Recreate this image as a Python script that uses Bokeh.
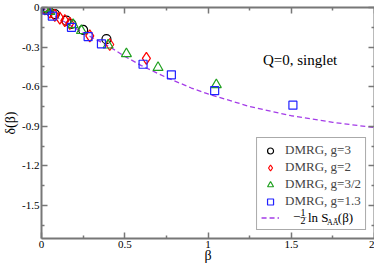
from bokeh.plotting import figure
from bokeh.models import (Range1d, LinearAxis, Legend, LegendItem, Label,
                          FixedTicker)
from bokeh.embed import file_html
from bokeh.resources import INLINE

# ---- data ----
beta_g3 = [0.02, 0.04, 0.08, 0.15, 0.18, 0.25, 0.39]
delta_g3 = [-0.01, -0.02, -0.05, -0.10, -0.125, -0.17, -0.24]

beta_g2 = [0.02, 0.05, 0.08, 0.11, 0.14, 0.17, 0.29, 0.41, 0.63]
delta_g2 = [-0.01, -0.035, -0.06, -0.08, -0.10, -0.12, -0.215, -0.28, -0.385]

beta_g15 = [0.02, 0.05, 0.19, 0.24, 0.40, 0.51, 0.70, 1.05]
delta_g15 = [-0.01, -0.03, -0.13, -0.175, -0.285, -0.35, -0.455, -0.585]

beta_g13 = [0.03, 0.065, 0.18, 0.28, 0.36, 0.61, 0.78, 1.04, 1.51]
delta_g13 = [-0.02, -0.065, -0.15, -0.22, -0.275, -0.43, -0.51, -0.63, -0.74]

beta_curve = [0, 0.1, 0.2, 0.3, 0.4, 0.5, 0.6, 0.75, 0.9, 1.0, 1.25, 1.5, 1.75, 2.0]
delta_curve = [0, -0.08, -0.155, -0.225, -0.29, -0.37, -0.44, -0.53, -0.61,
               -0.655, -0.75, -0.82, -0.87, -0.91]

x_ticks = [0, 0.5, 1, 1.5, 2]
x_tick_labels = ["0", "0.5", "1", "1.5", "2"]
x_minor = [0.25, 0.75, 1.25, 1.75]
y_ticks = [0, -0.3, -0.6, -0.9, -1.2, -1.5]
y_tick_labels = ["0", "-0.3", "-0.6", "-0.9", "-1.2", "-1.5"]
y_minor = [-0.15, -0.45, -0.75, -1.05, -1.35, -1.65]

FONT = "Liberation Serif"
AXC = "#777777"

p = figure(width=374, height=265, output_backend="svg", toolbar_location=None,
           x_range=Range1d(0, 2), y_range=Range1d(-1.75, 0),
           min_border_left=34, min_border_right=0, min_border_top=7,
           min_border_bottom=20)
p.outline_line_color = None
p.grid.visible = False
p.background_fill_color = "white"


def style_axis(ax):
    ax.axis_line_color = AXC
    ax.axis_line_width = 2
    ax.major_tick_in = 6
    ax.major_tick_out = 0
    ax.minor_tick_in = 3
    ax.minor_tick_out = 0
    ax.major_tick_line_color = AXC
    ax.minor_tick_line_color = AXC
    ax.major_tick_line_width = 1.5
    ax.minor_tick_line_width = 1.5


for ax in (p.xaxis[0], p.yaxis[0]):
    style_axis(ax)
    ax.major_label_text_font = FONT
    ax.major_label_text_font_size = "11px"
    ax.major_label_text_color = "black"
    ax.axis_label_text_font = FONT
    ax.axis_label_text_font_style = "normal"
    ax.axis_label_text_font_size = "14px"
    ax.axis_label_text_color = "black"
    ax.major_label_standoff = 2

p.xaxis[0].axis_label_standoff = -3
p.yaxis[0].axis_label_standoff = 1

p.xaxis[0].ticker = FixedTicker(ticks=x_ticks, minor_ticks=x_minor)
p.xaxis[0].major_label_overrides = {t: l for t, l in zip(x_ticks, x_tick_labels)}
p.yaxis[0].ticker = FixedTicker(ticks=y_ticks, minor_ticks=y_minor)
p.yaxis[0].major_label_overrides = {t: l for t, l in zip(y_ticks, y_tick_labels)}
p.xaxis[0].axis_label = "β"
p.yaxis[0].axis_label = "δ(β)"

for loc, minors, ticks in (("above", x_minor, x_ticks), ("right", y_minor, y_ticks)):
    a = LinearAxis(ticker=FixedTicker(ticks=ticks, minor_ticks=minors))
    style_axis(a)
    a.major_label_overrides = {t: "" for t in ticks}
    a.major_label_text_font_size = "1px"
    a.major_label_standoff = 0
    p.add_layout(a, loc)

# curve
r_curve = p.line(beta_curve, delta_curve, line_color="#a43ce8", line_width=1.3,
                 line_dash="5 3")

r3 = p.scatter(beta_g3, delta_g3, marker="circle", size=9, fill_color=None,
               line_color="black", line_width=1.2)
r2 = p.scatter(beta_g2, delta_g2, marker="diamond", size=12, fill_color=None,
               line_color="red", line_width=1.2)
r15 = p.scatter(beta_g15, delta_g15, marker="triangle", size=10, fill_color=None,
                line_color="#20a020", line_width=1.2)
r13 = p.scatter(beta_g13, delta_g13, marker="square", size=8, fill_color=None,
                line_color="#2020ff", line_width=1.2)

legend = Legend(items=[
    LegendItem(label="DMRG, g=3", renderers=[r3]),
    LegendItem(label="DMRG, g=2", renderers=[r2]),
    LegendItem(label="DMRG, g=3/2", renderers=[r15]),
    LegendItem(label="DMRG, g=1.3", renderers=[r13]),
    LegendItem(label="                 ", renderers=[r_curve]),
], location="bottom_right")
legend.label_text_font = FONT
legend.label_text_font_size = "13px"
legend.label_height = 15
legend.glyph_height = 15
legend.glyph_width = 18
legend.spacing = 1
legend.padding = 4
legend.margin = 8
legend.label_standoff = 6
legend.border_line_color = "#555555"
legend.border_line_width = 1
legend.background_fill_alpha = 0
p.add_layout(legend, "center")

p.add_layout(Label(x=1.33, y=-0.455, text="Q=0, singlet", text_font=FONT,
                   text_font_size="15px", text_color="black"))

# formula pieces of the last legend entry
fx = 1.51
fy = -1.59
fs = dict(text_font=FONT, level="overlay", text_color="black")
p.add_layout(Label(x=fx, y=fy, text="−", text_font_size="13px",
                   text_baseline="middle", **fs))
p.add_layout(Label(x=fx + 0.06, y=fy + 0.01, text="1", text_font_size="10px",
                   text_baseline="bottom", text_align="center", **fs))
p.add_layout(Label(x=fx + 0.06, y=fy + 0.006, text="—", text_font_size="7px",
                   text_baseline="middle", text_align="center", **fs))
p.add_layout(Label(x=fx + 0.06, y=fy + 0.0, text="2", text_font_size="10px",
                   text_baseline="top", text_align="center", **fs))
p.add_layout(Label(x=fx + 0.09, y=fy, text="ln S", text_font_size="13px",
                   text_baseline="middle", **fs))
p.add_layout(Label(x=fx + 0.205, y=fy - 0.035, text="AĀ", text_font_size="8px",
                   text_baseline="middle", **fs))
p.add_layout(Label(x=fx + 0.27, y=fy, text="(β)", text_font_size="13px",
                   text_baseline="middle", **fs))

open("out.html", "w").write(file_html(p, INLINE))
